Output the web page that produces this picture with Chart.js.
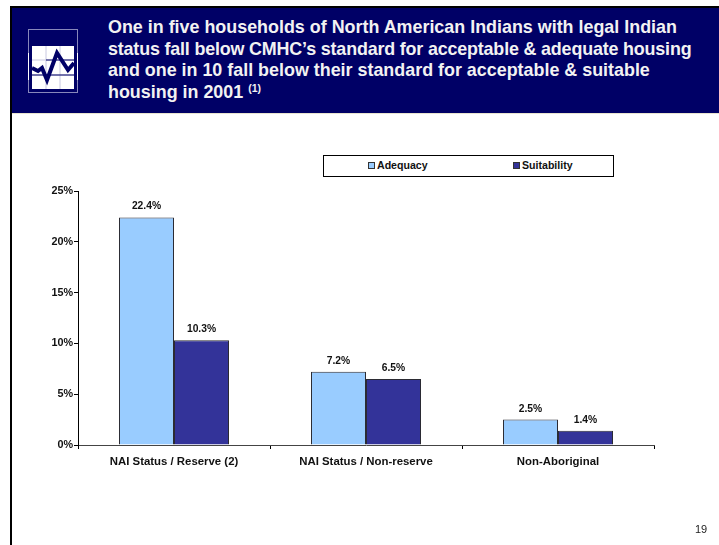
<!DOCTYPE html>
<html>
<head>
<meta charset="utf-8">
<script src="https://cdn.jsdelivr.net/npm/chart.js@4"></script>
<style>
    html, body { margin: 0; padding: 0; background: #fff; overflow: hidden; }
    body { position: relative; width: 719px; height: 545px; font-family: "Liberation Sans", Arial, sans-serif; }
    #frame { position: absolute; left: 10px; top: 6px; width: 709px; height: 539px; border-left: 2px solid #000; border-top: 2px solid #000; box-sizing: border-box; }
    #banner { position: absolute; left: 12px; top: 8px; width: 707px; height: 105px; background: #000066; border-bottom: 1px solid #e8e4d0; }
    #title { position: absolute; left: 108px; top: 17px; width: 600px; color: #f2f2f2; font-weight: bold; font-size: 17.9px; line-height: 21.7px; white-space: nowrap; }
    #title .tight { letter-spacing: -0.17px; }
    #title sup { font-size: 10.5px; line-height: 0; vertical-align: 6px; }
    #logo { position: absolute; left: 28px; top: 28px; }
    #chartWrap { position: absolute; left: 0; top: 0; width: 719px; height: 545px; }
    #legend { position: absolute; left: 323px; top: 155px; width: 291px; height: 22px; box-sizing: border-box; border: 1px solid #000; font-weight: bold; font-size: 10.6px; color: #111; background: #fff; }
    #legend span { position: absolute; top: 3px; white-space: nowrap; }
    #legend i { position: absolute; top: 6px; width: 5px; height: 5px; border: 1px solid #333; }
    #pageNo { position: absolute; left: 695px; top: 523px; font-size: 11px; color: #222; }
</style>
</head>
<body>
<div id="frame"></div>
<div id="banner"></div>
<svg id="logo" width="50" height="66" viewBox="0 0 50 66">
    <rect x="0.5" y="1.5" width="49" height="63" fill="none" stroke="#8888bb" stroke-width="1"/>
    <path d="M0.5 25V52M49.5 25V52" stroke="#fff" stroke-width="1" fill="none"/>
    <rect x="4" y="18" width="42" height="43" fill="#fff"/>
    <path d="M18 18V61M32 18V61M4 32H46M4 47H46" stroke="#c8c8e0" stroke-width="1" fill="none"/>
    <path d="M18 32H46M4 47H46" stroke="#000066" stroke-width="1" fill="none"/>
    <path d="M4 40L10 43L14 40L19 52L29 25L40 42L46 35" stroke="#000066" stroke-width="4" fill="none"/>
</svg>
<div id="title">One in five households of North American Indians with legal Indian<br><span class="tight">status fall below CMHC’s standard for acceptable &amp; adequate housing</span><br>and one in 10 fall below their standard for acceptable &amp; suitable<br>housing in 2001 <sup>(1)</sup></div>
<div id="chartWrap"><canvas id="chart" width="719" height="545"></canvas></div>
<div id="legend"></div>
<div id="pageNo">19</div>
<script>
const categories = ['NAI Status / Reserve (2)', 'NAI Status / Non-reserve', 'Non-Aboriginal'];
const adequacy = [22.4, 7.2, 2.5];
const suitability = [10.3, 6.5, 1.4];
const seriesNames = ['Adequacy', 'Suitability'];
const seriesColors = ['#99ccff', '#333399'];
const fontFamily = '"Liberation Sans", Arial, sans-serif';

// value labels above each bar
const barLabels = {
    id: 'barLabels',
    afterDatasetsDraw(chart) {
        const ctx = chart.ctx;
        ctx.save();
        ctx.font = 'bold 10.3px ' + fontFamily;
        ctx.fillStyle = '#111';
        ctx.textAlign = 'center';
        ctx.textBaseline = 'alphabetic';
        chart.data.datasets.forEach((ds, i) => {
            chart.getDatasetMeta(i).data.forEach((bar, j) => {
                ctx.fillText(ds.data[j].toFixed(1) + '%', bar.x, bar.y - 8);
            });
        });
        ctx.restore();
    }
};

const barStyle = { borderColor: '#2b2b33', borderWidth: 1, barPercentage: 1, categoryPercentage: 0.573 };

new Chart(document.getElementById('chart'), {
    type: 'bar',
    data: {
        labels: categories,
        datasets: [
            Object.assign({ label: seriesNames[0], data: adequacy, backgroundColor: seriesColors[0] }, barStyle),
            Object.assign({ label: seriesNames[1], data: suitability, backgroundColor: seriesColors[1] }, barStyle)
        ]
    },
    options: {
        responsive: false,
        animation: false,
        layout: { padding: { left: 0, right: 65, top: 191, bottom: 70 } },
        plugins: { legend: { display: false }, tooltip: { enabled: false } },
        scales: {
            x: {
                afterFit: scale => { scale.height = 30; },
                border: { color: '#444', width: 1 },
                grid: { drawOnChartArea: false, color: '#000', tickLength: 4 },
                ticks: { color: '#111', font: { family: fontFamily, size: 11.4, weight: 'bold' }, padding: 6, maxRotation: 0 }
            },
            y: {
                min: 0,
                max: 25,
                afterFit: scale => { scale.width = 78; },
                border: { color: '#000', width: 1 },
                grid: { drawOnChartArea: false, color: '#000', tickLength: 4 },
                ticks: { stepSize: 5, color: '#111', font: { family: fontFamily, size: 10.8, weight: 'bold' }, padding: 1, callback: v => v + '%' }
            }
        }
    },
    plugins: [barLabels]
});

// legend box
const legendBox = document.getElementById('legend');
const legendX = [44, 189];
seriesNames.forEach((name, i) => {
    const swatch = document.createElement('i');
    swatch.style.left = legendX[i] + 'px';
    swatch.style.background = seriesColors[i];
    const text = document.createElement('span');
    text.style.left = (legendX[i] + 9) + 'px';
    text.textContent = name;
    legendBox.append(swatch, text);
});
</script>
</body>
</html>
